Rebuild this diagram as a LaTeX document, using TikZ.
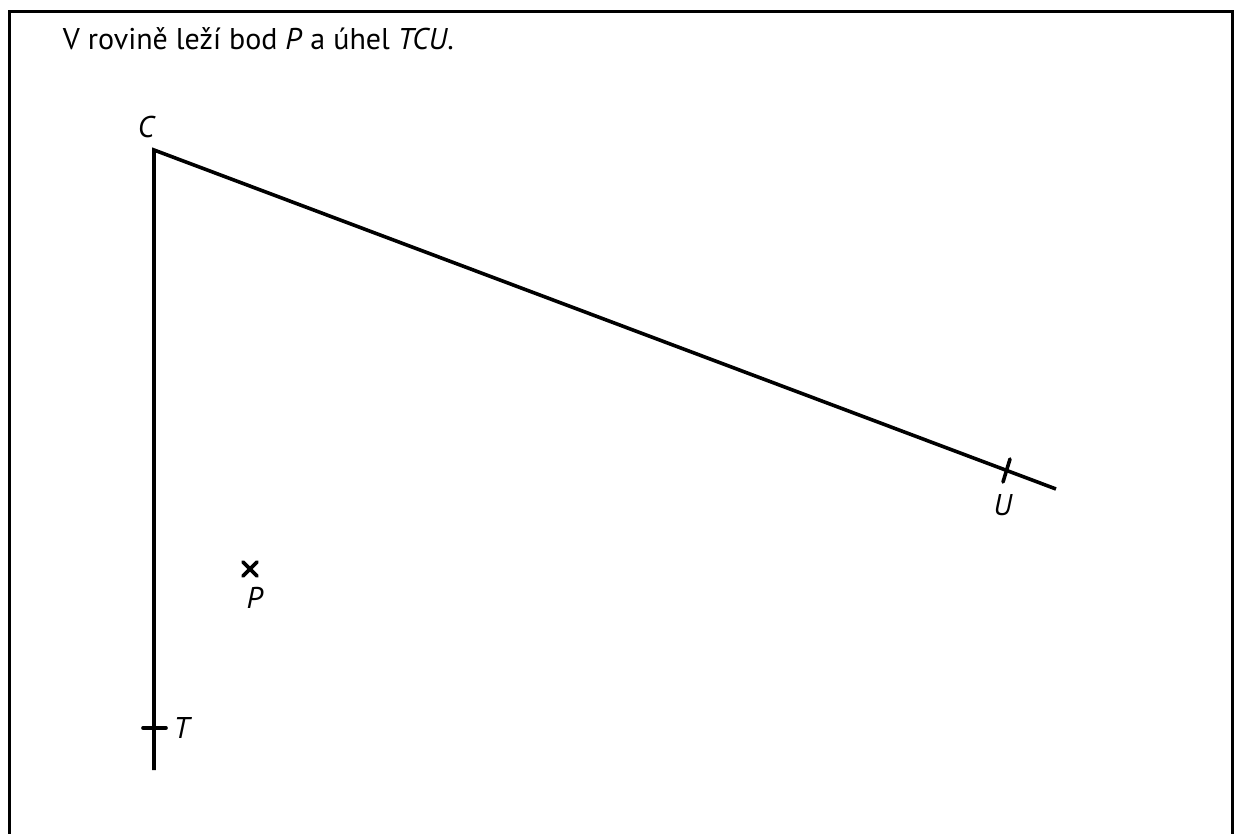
\documentclass[tikz,border=0pt]{standalone}
\usepackage{fontspec}
\setmainfont{PT Sans}
\usepackage{tikz}
\usetikzlibrary{positioning}

\begin{document}
\begin{tikzpicture}[x=0.5pt, y=-0.5pt, line width=1.8pt, every node/.style={font=\fontsize{15}{18}\selectfont, inner sep=0pt}]
    \useasboundingbox (0,0) rectangle (1235,834);
    % Frame, open at the bottom
    \draw[line width=1.5pt] (9.5,834) -- (9.5,11.5) -- (1232,11.5) -- (1232,834);

    \node[anchor=base west] (title) at (61,50) {V rovině leží bod \textit{P} a úhel \textit{TCU}.};

    % Define the points
    \coordinate (C) at (154,150);
    \coordinate (T) at (154,728);
    \coordinate (U) at (1007,470);
    \coordinate (P) at (250,569);
    \coordinate (endT) at (154,770);
    \coordinate (endU) at (1056,489);

    % Arms of the angle
    \draw[line join=miter] (endT) -- (C) -- (endU);

    % Ticks and the cross
    \begin{scope}[line cap=round]
        \draw ([shift={(-11,0)}]T) -- ([shift={(12,0)}]T);
        \draw ([shift={(3,-11)}]U) -- ([shift={(-4,12)}]U);
        \draw ([shift={(-7,-7)}]P) -- ([shift={(7,7)}]P);
        \draw ([shift={(-7,7)}]P) -- ([shift={(7,-7)}]P);
    \end{scope}

    % Point labels
    \node (labC) at (147,127) {\textit{C}};
    \node (labT) at (183,728) {\textit{T}};
    \node (labU) at (1003,505) {\textit{U}};
    \node (labP) at (255,598) {\textit{P}};
\end{tikzpicture}
\end{document}
